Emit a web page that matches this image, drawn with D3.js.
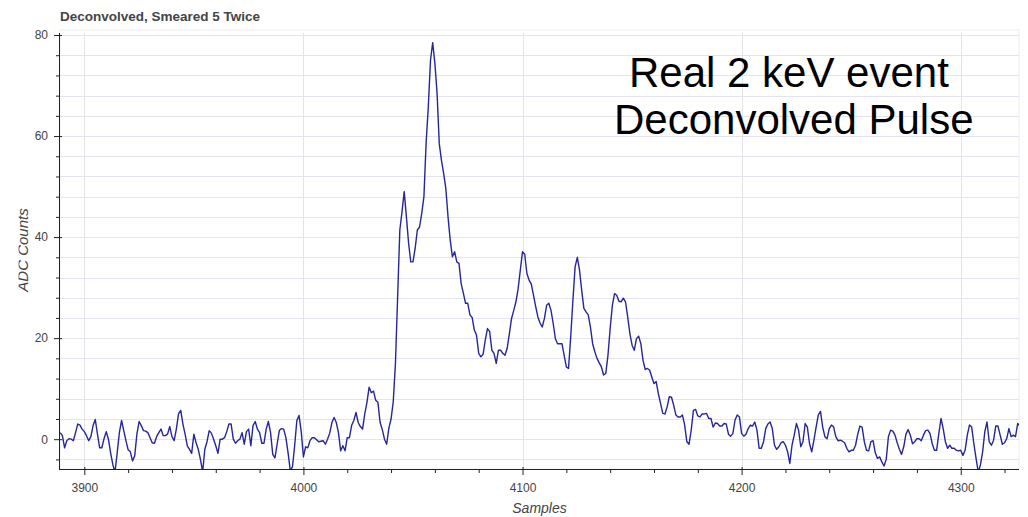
<!DOCTYPE html>
<html>
<head>
<meta charset="utf-8">
<script src="https://cdn.jsdelivr.net/npm/d3@7"></script>
<style>
  html, body { margin: 0; padding: 0; background: #fff; }
  svg { display: block; font-family: "Liberation Sans", Arial, Helvetica, sans-serif; }
</style>
</head>
<body>
<svg id="chart" width="1028" height="517"></svg>
<script>
// ---------------- data ----------------
const title = "Deconvolved, Smeared 5 Twice";
const xLabel = "Samples";
const yLabel = "ADC Counts";
const noteLines = ["Real 2 keV event", "Deconvolved Pulse"];

const firstSample = 3889;           // sample number of the first value
const adcValues = [
  1.3, 0.7, -1.7, -0.3, 0.1, 0, -0.3, 1.3, 3, 2.8, 2, 1.5,          // 3889-3900
  0.7, -0.3, 0.5, 2.7, 3.9, 1, -1.7, -1.7, 0.1, 1.5,                // 3901-3910
  0, -2.7, -5, -6.5, -2.7, 1.3, 3.7, 1.7, -0.3, -2.1,               // 3911-3920
  -2.5, -4.3, -3.3, 1, 3.5, 2.7, 1.7, 1.6, 1.3, 0.3,                // 3921-3930
  -0.7, -0.8, 0.5, 1.3, 2, 0.7, 0.7, 1, 2.5, 0.5,                   // 3931-3940
  -0.3, 2, 5, 5.7, 3, 1, -1.3, -2, -2.8, 1,                         // 3941-3950
  -0.7, -2, -4, -6.5, -2, -0.5, 1.7, 1.2, 0, -1.3,                  // 3951-3960
  -2.8, 0, 0, 0.3, 1.5, 3, 3, 0, -0.8, -0.3,                        // 3961-3970
  0, 1.3, -1, 1.5, 2, -1.3, 2.7, 3.5, 2, 1.3,                       // 3971-3980
  -0.8, -0.8, 2, 3.5, 1.3, -3, -3.7, -1, 1.7, 2.1,                  // 3981-3990
  2, 0.3, -2.7, -6.2, -5.5, -1.3, 3.7, 4.7, 1.5, -3.5,              // 3991-4000
  -1.5, -1.7, -0.3, 0.3, 0.3, -0.1, -0.5, -0.4, -0.3, -1,           // 4001-4010
  0, 1.2, 3.3, 4.3, 3.3, 1.3, -2.3, -1.3, -2.3, 0.3,                // 4011-4020
  0.3, 2.7, 3.7, 5.3, 3.3, 2.5, 2, 5, 7.3, 10.3,                    // 4021-4030
  9.2, 9.5, 7.7, 7.3, 3.3, 1.9, 0, -1, 2.2, 4,                      // 4031-4040
  7.4, 15, 28.2, 41.4, 45, 49, 44, 38.8, 35.1, 35.1,                // 4041-4050
  37.8, 41.4, 42, 44.7, 48, 58.6, 65.8, 75, 78.5, 74.4,             // 4051-4060
  68.5, 58.5, 55.2, 52.6, 49.6, 44, 39.4, 36.1, 37.1, 35.1,         // 4061-4070
  34.8, 30.8, 28.9, 26.9, 26.9, 24.6, 24.1, 21.6, 20.6, 17,         // 4071-4080
  16.3, 16.8, 19.6, 21.9, 21.3, 17.6, 17, 15, 17.6, 17.6,           // 4081-4090
  17, 16.6, 18, 20.9, 23.9, 25.5, 27.2, 29.8, 33.5, 37.1,           // 4091-4100
  36.6, 32.8, 31.5, 30.7, 28.5, 26.3, 24.2, 23, 22.2, 23.9,         // 4101-4110
  26.5, 26.9, 25.5, 22.9, 19.9, 18.9, 18.9, 18.9, 16.6, 14.3,       // 4111-4120
  14, 20.3, 27.5, 34.1, 36, 33.5, 29.5, 25.9, 25.2, 24.6,           // 4121-4130
  22.2, 18.9, 17.3, 16, 15.1, 14.3, 12.7, 13, 16.6, 21.9,           // 4131-4140
  26.5, 28.8, 28.5, 27.3, 27.2, 27.9, 27.2, 24.2, 20.9, 18.6,       // 4141-4150
  17.6, 19.9, 20.4, 18.9, 15.6, 13.8, 14, 13.7, 12.3, 11,           // 4151-4160
  11.4, 9, 7.1, 5.1, 5, 6.4, 8.4, 8.3, 6.7, 4.8,                    // 4161-4170
  4.4, 4.4, 4.8, 2.8, -0.5, -1, 1.8, 5.7, 5.9, 4.6,                 // 4171-4180
  4.4, 5, 5, 5.1, 4.1, 4.1, 2.4, 3.2, 3.1, 2.6,                     // 4181-4190
  2.6, 3.1, 3, 1, 0.6, 1.1, 3.8, 4.8, 4.4, 1.1,                     // 4191-4200
  0.6, 1, 2.1, 2.8, 2.6, 3.4, 1.8, -1.8, -1.8, -0.5,                // 4201-4210
  2.1, 3, 3.4, 2.1, -1.2, -2, -1.5, -0.7, -0.5, -1.2,               // 4211-4220
  -2.5, -4.8, -1.2, 0.8, 3.1, 1.8, -1.5, -0.5, 3.1, 2.4,            // 4221-4230
  -0.9, -2.5, -0.2, 2.4, 4.8, 5.5, 2.4, 0.5, 0.1, 2.1,              // 4231-4240
  2.8, 2.4, 0.5, -0.3, -0.2, -0.4, -0.7, -1.8, -2.5, -2.2,          // 4241-4250
  -2.2, -1.2, 1, 2.6, 2.4, -0.5, -2.2, -2.3, -0.5, -0.3,            // 4251-4260
  -2.7, -3.8, -3.5, -4.5, -5.3, -4, 0.5, 1.8, 1.6, 0.8,             // 4261-4270
  -0.7, -2, -3, -1.5, 1, 1.9, 0.8, -0.9, -0.5, 0.1,                 // 4271-4280
  0.1, -0.3, 0.8, 1.7, 1.8, 1.1, -0.9, -2.2, -2.2, 1.1,             // 4281-4290
  4.1, 2.1, -0.5, -1.8, -1.2, -1.8, -1.8, -2.2, -2.3, -2.2,         // 4291-4300
  -3.2, -2.2, 0.8, 2.8, 2.4, -0.9, -3.8, -6.5, -5.1, -2.5,          // 4301-4310
  1.5, 3.4, -0.5, -1.2, -0.2, 2.6, 2.6, 0.8, -1, -0.7,              // 4311-4320
  0.1, 2.1, 0.5, 0.8, 0.5, 3.1, 2.6                                 // 4321-4327
];

const xDomain = [3888.9, 4326.6];
const yDomain = [-5.9, 80.4];
const xMajorTicks = [3900, 4000, 4100, 4200, 4300];
const xMinorTicks = d3.range(3900, 4321, 20);
const yMajorTicks = [0, 20, 40, 60, 80];
const yMinorTicks = d3.range(-4, 81, 4);

// ---------------- layout ----------------
const svg = d3.select("#chart");
const frame = { left: 60, right: 1019, top: 33, bottom: 469 };

const x = d3.scaleLinear().domain(xDomain).range([frame.left, frame.right]);
const y = d3.scaleLinear().domain(yDomain).range([frame.bottom, frame.top]);

const data = adcValues.map((v, i) => ({ s: firstSample + i, v }));

const defs = svg.append("defs");
defs.append("clipPath").attr("id", "plotclip")
  .append("rect")
  .attr("x", frame.left).attr("y", frame.top)
  .attr("width", frame.right - frame.left).attr("height", frame.bottom - frame.top);
defs.append("clipPath").attr("id", "ylabclip")
  .append("rect").attr("x", 18.5).attr("y", 0).attr("width", 40).attr("height", 517);

// outline
svg.append("rect")
  .attr("x", frame.left).attr("y", frame.top - 3)
  .attr("width", frame.right - frame.left).attr("height", frame.bottom - frame.top + 3)
  .attr("fill", "none").attr("stroke", "#eeeef2").attr("stroke-width", 1);

// grid
const grid = svg.append("g").attr("clip-path", "url(#plotclip)");
grid.selectAll("line.hg").data(yMinorTicks).enter().append("line")
  .attr("x1", frame.left).attr("x2", frame.right)
  .attr("y1", d => Math.round(y(d)) + 0.5).attr("y2", d => Math.round(y(d)) + 0.5)
  .attr("stroke", "#e3e3f1").attr("stroke-width", 1);
grid.selectAll("line.vg").data(xMajorTicks).enter().append("line")
  .attr("y1", frame.top - 3).attr("y2", frame.bottom)
  .attr("x1", d => Math.round(x(d)) + 0.5).attr("x2", d => Math.round(x(d)) + 0.5)
  .attr("stroke", "#e3e3ea").attr("stroke-width", 1);

// line
const line = d3.line().x(d => x(d.s)).y(d => y(d.v));
svg.append("path")
  .datum(data)
  .attr("clip-path", "url(#plotclip)")
  .attr("d", line)
  .attr("fill", "none")
  .attr("stroke", "#26269a")
  .attr("stroke-width", 1.4)
  .attr("stroke-linejoin", "round");

// axes
const axisColor = "#222";
const labelColor = "#444";

function styleAxis(g, inner, horizontal) {
  g.select(".domain").remove();
  g.selectAll(".tick line").attr("stroke", axisColor).attr("stroke-width", 1);
  if (horizontal) g.selectAll(".tick line").attr("y1", -inner);
  else g.selectAll(".tick line").attr("x1", inner);
  g.selectAll(".tick text").attr("fill", labelColor).style("font-size", "12px");
}

// x axis
const gxMinor = svg.append("g").attr("transform", `translate(0,${frame.bottom})`)
  .call(d3.axisBottom(x).tickValues(xMinorTicks.filter(t => !xMajorTicks.includes(t))).tickSize(4).tickFormat(""));
styleAxis(gxMinor, 0, true);
const gx = svg.append("g").attr("transform", `translate(0,${frame.bottom})`)
  .call(d3.axisBottom(x).tickValues(xMajorTicks).tickSize(6).tickPadding(8).tickFormat(d3.format("d")));
styleAxis(gx, 2, true);
svg.append("line").attr("x1", frame.left).attr("x2", frame.right)
  .attr("y1", frame.bottom + 0.5).attr("y2", frame.bottom + 0.5)
  .attr("stroke", axisColor).attr("stroke-width", 1);

// y axis
const gyMinor = svg.append("g").attr("transform", `translate(${frame.left},0)`)
  .call(d3.axisLeft(y).tickValues(yMinorTicks.filter(t => !yMajorTicks.includes(t))).tickSize(4).tickFormat(""));
styleAxis(gyMinor, 0, false);
const gy = svg.append("g").attr("transform", `translate(${frame.left},0)`)
  .call(d3.axisLeft(y).tickValues(yMajorTicks).tickSize(6).tickPadding(6).tickFormat(d3.format("d")));
styleAxis(gy, 2, false);
svg.append("line").attr("x1", frame.left - 0.5).attr("x2", frame.left - 0.5)
  .attr("y1", frame.top).attr("y2", frame.bottom + 1)
  .attr("stroke", axisColor).attr("stroke-width", 1);

// axis labels
svg.append("text")
  .attr("x", (frame.left + frame.right) / 2).attr("y", 513)
  .attr("text-anchor", "middle")
  .attr("fill", labelColor)
  .style("font-size", "14px").style("font-style", "italic")
  .text(xLabel);

svg.append("g").attr("clip-path", "url(#ylabclip)")
  .append("text")
  .attr("transform", "translate(27.5,250) rotate(-90)")
  .attr("text-anchor", "middle")
  .attr("fill", labelColor)
  .style("font-size", "15px").style("font-style", "italic")
  .text(yLabel);

// title
svg.append("text")
  .attr("x", 60).attr("y", 21)
  .attr("fill", labelColor)
  .style("font-size", "13.5px").style("font-weight", "bold")
  .text(title);

// annotation
const noteX = [629, 614];
const noteY = [87, 134];
svg.selectAll("text.note").data(noteLines).enter().append("text")
  .attr("class", "note")
  .attr("x", (d, i) => noteX[i]).attr("y", (d, i) => noteY[i])
  .attr("fill", "#000")
  .style("font-size", "42px")
  .text(d => d);
</script>
</body>
</html>
